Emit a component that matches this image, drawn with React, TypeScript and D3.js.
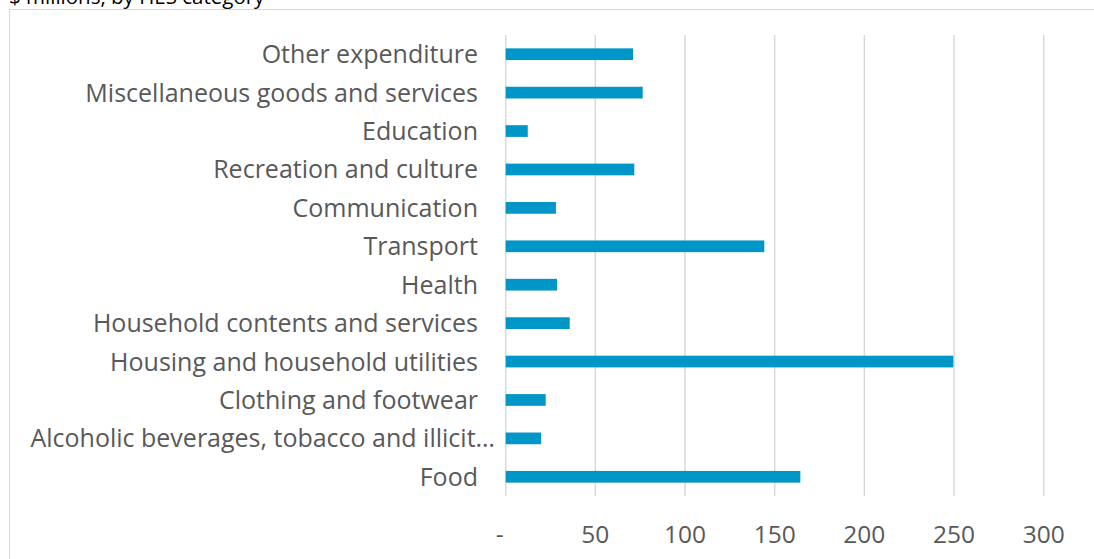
import React from "react";
import * as d3 from "d3";

const categories = [
  "Other expenditure",
  "Miscellaneous goods and services",
  "Education",
  "Recreation and culture",
  "Communication",
  "Transport",
  "Health",
  "Household contents and services",
  "Housing and household utilities",
  "Clothing and footwear",
  "Alcoholic beverages, tobacco and illicit…",
  "Food",
];
const values = [71.0, 76.4, 12.3, 71.7, 28.0, 144.2, 28.6, 35.7, 249.6, 22.3, 19.7, 164.3];
const tickValues = [0, 50, 100, 150, 200, 250, 300];
const tickLabel = (v: number) => (v === 0 ? "-" : String(v));
const title = "$ millions, by HES category";

const W = 1094;
const H = 559;
const plot = { left: 505.7, right: 1043.7, top: 35, bottom: 496 };
const FONT = "'Open Sans', sans-serif";
const BAR = "#0096C7";
const GRID = "#D9D9D9";
const TEXT = "#595959";

export default function App() {
  const x = d3.scaleLinear().domain([0, 300]).range([plot.left, plot.right]);
  const y = d3
    .scaleBand<string>()
    .domain(categories)
    .range([plot.top, plot.bottom])
    .paddingInner(0.695)
    .paddingOuter(0.3475);

  return (
    <svg
      width={W}
      height={H}
      style={{ position: "absolute", left: 0, top: 0, background: "#fff" }}
    >
      <text x={9} y={4} fontFamily={FONT} fontSize={20.5} fill="#000">
        {title}
      </text>
      <rect x={9.5} y={9.5} width={W + 20} height={H + 20} fill="none" stroke={GRID} strokeWidth={1} />
      {tickValues.map((t) => (
        <line
          key={t}
          x1={x(t)}
          x2={x(t)}
          y1={plot.top}
          y2={plot.bottom}
          stroke={GRID}
          strokeWidth={1.5}
        />
      ))}
      {categories.map((c, i) => (
        <rect
          key={c}
          x={x(0)}
          y={y(c)!}
          width={x(values[i]) - x(0)}
          height={y.bandwidth()}
          fill={BAR}
        />
      ))}
      {categories.map((c) => (
        <text
          key={c}
          x={c.endsWith("…") ? 495 : 478}
          y={y(c)! + y.bandwidth() / 2}
          dy="0.36em"
          textAnchor="end"
          fontFamily={FONT}
          fontSize={25}
          fill={TEXT}
        >
          {c}
        </text>
      ))}
      {tickValues.map((t) => (
        <text
          key={t}
          x={t === 0 ? x(t) - 6 : x(t)}
          y={543}
          textAnchor="middle"
          fontFamily={FONT}
          fontSize={24.5}
          fill={TEXT}
        >
          {tickLabel(t)}
        </text>
      ))}
    </svg>
  );
}
